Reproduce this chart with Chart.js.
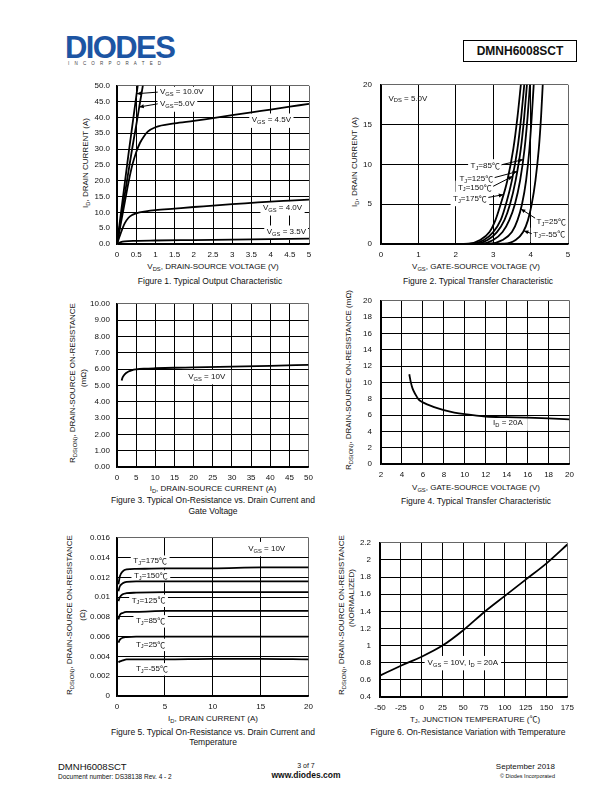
<!DOCTYPE html>
<html><head><meta charset="utf-8">
<script src="https://cdn.jsdelivr.net/npm/chart.js@4.4.1/dist/chart.umd.min.js"></script>
<style>
html,body{margin:0;padding:0;background:#fff}
body{width:612px;height:792px;position:relative;overflow:hidden;font-family:"Liberation Sans",Arial,"Noto Sans CJK SC",sans-serif;color:#111}
.t{position:absolute;white-space:nowrap;line-height:1;transform:translate(-50%,-50%)}
.r{position:absolute;white-space:nowrap;line-height:1;transform:translate(-50%,-50%) rotate(-90deg)}
.l{position:absolute;white-space:nowrap;line-height:1;transform:translateY(-50%)}
.rt{position:absolute;white-space:nowrap;line-height:1;transform:translate(-100%,-50%)}
sub{font-size:72%;vertical-align:-0.3em;line-height:0}
.ax{font-size:8px}
.cap{font-size:8.5px}
.cjk{font-family:"Noto Sans CJK SC",sans-serif}
</style></head><body>

<!-- header -->
<div class="l" style="left:65px;top:47px;font-size:31px;font-weight:bold;color:#1d55a3;letter-spacing:-1.6px;">DIODES</div>
<div class="l" style="left:68px;top:64px;font-size:4.5px;letter-spacing:5.2px;color:#444;">INCORPORATED</div>
<div style="position:absolute;left:463px;top:40px;width:114px;height:22px;box-sizing:border-box;border:1px solid #000;display:flex;align-items:center;justify-content:center;font-weight:bold;font-size:12px;">DMNH6008SCT</div>

<!-- figure 1 texts -->
<div class="t ax" style="left:213px;top:266.5px">V<sub>DS</sub>, DRAIN-SOURCE VOLTAGE (V)</div>
<div class="r ax" style="left:86px;top:163px">I<sub>D</sub>, DRAIN CURRENT (A)</div>
<div class="t cap" style="left:210px;top:280.5px">Figure 1. Typical Output Characteristic</div>
<!-- figure 2 texts -->
<div class="t ax" style="left:476px;top:267px">V<sub>GS</sub>, GATE-SOURCE VOLTAGE (V)</div>
<div class="r ax" style="left:355px;top:162px">I<sub>D</sub>, DRAIN CURRENT (A)</div>
<div class="t cap" style="left:478px;top:280.5px">Figure 2. Typical Transfer Characteristic</div>
<!-- figure 3 texts -->
<div class="t ax" style="left:213px;top:489px">I<sub>D</sub>, DRAIN-SOURCE CURRENT (A)</div>
<div class="r ax" style="left:73px;top:383px">R<sub>DS(ON)</sub>, DRAIN-SOURCE ON-RESISTANCE</div>
<div class="r ax" style="left:83.5px;top:378px">(mΩ)</div>
<div class="t cap" style="left:213px;top:500px">Figure 3. Typical On-Resistance vs. Drain Current and</div>
<div class="t cap" style="left:213px;top:511px">Gate Voltage</div>
<!-- figure 4 texts -->
<div class="t ax" style="left:476px;top:488px">V<sub>GS</sub>, GATE-SOURCE VOLTAGE (V)</div>
<div class="r ax" style="left:349px;top:380px">R<sub>DS(ON)</sub>, DRAIN-SOURCE ON-RESISTANCE (mΩ)</div>
<div class="t cap" style="left:476px;top:501px">Figure 4. Typical Transfer Characteristic</div>
<!-- figure 5 texts -->
<div class="t ax" style="left:213px;top:719px">I<sub>D</sub>, DRAIN CURRENT (A)</div>
<div class="r ax" style="left:70px;top:615px">R<sub>DS(ON)</sub>, DRAIN-SOURCE ON-RESISTANCE</div>
<div class="r ax" style="left:82.5px;top:615px">(Ω)</div>
<div class="t cap" style="left:213px;top:731.5px">Figure 5. Typical On-Resistance vs. Drain Current and</div>
<div class="t cap" style="left:213px;top:742px">Temperature</div>
<!-- figure 6 texts -->
<div class="t ax" style="left:475px;top:718.5px">T<sub>J</sub>, JUNCTION TEMPERATURE (<span class="cjk">℃</span>)</div>
<div class="r ax" style="left:341.5px;top:615px">R<sub>DS(ON)</sub>, DRAIN-SOURCE ON-RESISTANCE</div>
<div class="r ax" style="left:352px;top:598px">(NORMALIZED)</div>
<div class="t cap" style="left:468px;top:731.5px">Figure 6. On-Resistance Variation with Temperature</div>

<!-- footer -->
<div class="l" style="left:58px;top:767px;font-size:9.5px">DMNH6008SCT</div>
<div class="l" style="left:58px;top:777px;font-size:6.5px">Document number: DS38138 Rev. 4 - 2</div>
<div class="t" style="left:306px;top:765px;font-size:7px">3 of 7</div>
<div class="t" style="left:306px;top:775px;font-size:8.5px;font-weight:bold">www.diodes.com</div>
<div class="rt" style="left:555px;top:767px;font-size:8px">September 2018</div>
<div class="rt" style="left:555px;top:777px;font-size:5.5px">© Diodes Incorporated</div>

<script>
// ================= DATA =================
// Figure 1: Typical Output Characteristic
const f1XLabels = ['0','0.5','1','1.5','2','2.5','3','3.5','4','4.5','5'];
const f1YLabels = ['0.0','5.0','10.0','15.0','20.0','25.0','30.0','35.0','40.0','45.0','50.0'];
const f1Vds10 = [0, 0.1, 0.2, 0.3, 0.4, 0.5, 0.55];
const f1Id10  = [0, 9.5, 19, 28.5, 37.5, 46.5, 51];
const f1Vds50 = [0, 0.1, 0.2, 0.3, 0.4, 0.5, 0.6, 0.7];
const f1Id50  = [0, 7.8, 15.5, 23, 30.5, 37.5, 44.8, 52];
const f1Vds45 = [0, 0.1, 0.2, 0.3, 0.4, 0.5, 0.6, 0.7, 0.8, 1.0, 1.5, 2, 2.5, 3, 3.5, 4, 4.5, 5];
const f1Id45  = [0, 6.5, 13, 19.5, 25, 29, 32, 34, 35.5, 36.9, 38.1, 38.9, 39.8, 40.7, 41.6, 42.5, 43.4, 44.3];
const f1Vds40 = [0, 0.1, 0.2, 0.3, 0.4, 0.5, 0.75, 1, 1.5, 2, 2.5, 3, 3.5, 4, 4.5, 5];
const f1Id40  = [0, 3.5, 6.5, 8.3, 9.2, 9.7, 10.3, 10.7, 11.2, 11.7, 12.1, 12.6, 13, 13.4, 13.7, 14];
const f1Vds35 = [0, 0.1, 0.2, 0.5, 1, 2, 3, 4, 5];
const f1Id35  = [0, 0.6, 0.85, 1.0, 1.1, 1.25, 1.4, 1.55, 1.7];

// Figure 2: Typical Transfer Characteristic (VDS = 5V)
const f2XLabels = ['0','1','2','3','4','5'];
const f2YLabels = ['0','5','10','15','20'];
const f2Id      = [0, 0.05, 0.5, 1.5, 3, 5, 8, 12, 16, 20.5];
const f2VgsM55  = [1.5, 3.3, 3.6, 3.8, 3.93, 4.03, 4.13, 4.22, 4.28, 4.33];
const f2Vgs25   = [1.5, 2.9, 3.25, 3.5, 3.65, 3.77, 3.88, 3.97, 4.03, 4.09];
const f2Vgs85   = [1.5, 2.7, 3.0, 3.25, 3.43, 3.58, 3.72, 3.84, 3.92, 3.99];
const f2Vgs125  = [1.5, 2.55, 2.85, 3.1, 3.3, 3.45, 3.6, 3.74, 3.83, 3.91];
const f2Vgs150  = [1.5, 2.45, 2.75, 3.0, 3.2, 3.34, 3.5, 3.65, 3.75, 3.84];
const f2Vgs175  = [1.5, 2.35, 2.65, 2.9, 3.06, 3.2, 3.38, 3.54, 3.65, 3.75];

// Figure 3: On-Resistance vs Drain Current (VGS = 10V)
const f3XLabels = ['0','5','10','15','20','25','30','35','40','45','50'];
const f3YLabels = ['0.00','1.00','2.00','3.00','4.00','5.00','6.00','7.00','8.00','9.00','10.00'];
const f3Id  = [1.2, 1.5, 2, 3, 4, 5, 7, 10, 15, 20, 30, 40, 50];
const f3Rds = [5.3, 5.5, 5.68, 5.85, 5.94, 5.98, 6.02, 6.05, 6.08, 6.1, 6.15, 6.2, 6.26];

// Figure 4: On-Resistance vs Gate-Source Voltage (ID = 20A)
const f4XLabels = ['2','4','6','8','10','12','14','16','18','20'];
const f4YLabels = ['0','2','4','6','8','10','12','14','16','18','20'];
const f4Vgs = [4.7, 4.85, 5.0, 5.3, 5.6, 6, 7, 8, 9, 10, 12, 14, 16, 18, 20];
const f4Rds = [11.0, 10.0, 9.3, 8.5, 7.9, 7.55, 7.0, 6.6, 6.3, 6.1, 5.82, 5.74, 5.68, 5.58, 5.48];

// Figure 5: On-Resistance vs Drain Current and Temperature
const f5XLabels = ['0','5','10','15','20'];
const f5YLabels = ['0','0.002','0.004','0.006','0.008','0.01','0.012','0.014','0.016'];
const f5Id    = [0.15, 0.3, 0.6, 1, 2, 5, 10, 15, 20];
const f5R175  = [0.0113, 0.0121, 0.0126, 0.0128, 0.01285, 0.0129, 0.0129, 0.013, 0.013];
const f5R150  = [0.0106, 0.0111, 0.0114, 0.01155, 0.0116, 0.0116, 0.0116, 0.0116, 0.0116];
const f5R125  = [0.0096, 0.0100, 0.0103, 0.0104, 0.01045, 0.0105, 0.0105, 0.0105, 0.0105];
const f5R85   = [0.00775, 0.0082, 0.0084, 0.0085, 0.0085, 0.0086, 0.0086, 0.0086, 0.0086];
const f5R25   = [0.0054, 0.0057, 0.0059, 0.00595, 0.006, 0.006, 0.006, 0.006, 0.006];
const f5RM55  = [0.0034, 0.0035, 0.0036, 0.0037, 0.0037, 0.0037, 0.00375, 0.00375, 0.0037];

// Figure 6: Normalized On-Resistance vs Junction Temperature
const f6XLabels = ['-50','-25','0','25','50','75','100','125','150','175'];
const f6YLabels = ['0.4','0.6','0.8','1','1.2','1.4','1.6','1.8','2','2.2'];
const f6Tj = [-50, -25, 0, 25, 50, 75, 100, 125, 150, 175];
const f6Rn = [0.65, 0.765, 0.87, 1.0, 1.18, 1.39, 1.58, 1.77, 1.96, 2.18];

// ================= HELPERS =================
const FONT = '"Liberation Sans", Arial, "Noto Sans CJK SC", sans-serif';
const CJK = '"Noto Sans CJK SC", sans-serif';
const pts = (xs, ys) => xs.map((v, i) => ({x: v, y: ys[i]}));

// segments: [text, kind] kind 0 normal, 1 subscript, 2 CJK symbol
function parseRich(s){
  const out = []; const re = /_\{([^}]*)\}|℃/g; let last = 0, m;
  while ((m = re.exec(s))) {
    if (m.index > last) out.push([s.slice(last, m.index), 0]);
    if (m[0] === '℃') out.push(['℃', 2]); else out.push([m[1], 1]);
    last = re.lastIndex;
  }
  if (last < s.length) out.push([s.slice(last), 0]);
  return out;
}
function setFont(ctx, kind, fs){
  ctx.font = kind === 1 ? (fs*0.72) + 'px ' + FONT : (kind === 2 ? fs + 'px ' + CJK : fs + 'px ' + FONT);
}
function richW(ctx, segs, fs){
  let w = 0;
  for (const [t, s] of segs){ setFont(ctx, s, fs); w += ctx.measureText(t).width; }
  return w;
}
function geom(chart, n, fs){
  const {ctx, scales} = chart;
  const segs = parseRich(n.text);
  const w = richW(ctx, segs, fs);
  const px = scales.x.getPixelForValue(n.x), py = scales.y.getPixelForValue(n.y);
  const left = n.align === 'right' ? px - w : (n.align === 'center' ? px - w/2 : px);
  return {segs, w, left, py};
}

const notesPlugin = {
  id: 'notes',
  beforeDatasetsDraw(chart, args, opts){
    const {ctx, chartArea: ca} = chart; const fs = opts.size || 8;
    ctx.save();
    ctx.beginPath(); ctx.rect(ca.left + 1, ca.top + 1, ca.right - ca.left - 2, ca.bottom - ca.top - 2); ctx.clip();
    for (const n of (opts.items || [])){
      if (!n.box) continue;
      const g = geom(chart, n, fs);
      const padX = n.padX ?? 2.5, padY = n.padY ?? 2;
      ctx.fillStyle = '#fff';
      ctx.fillRect(g.left - padX, g.py - fs*0.6 - padY, g.w + 2*padX, fs*1.3 + 2*padY);
    }
    ctx.restore();
  },
  afterDatasetsDraw(chart, args, opts){
    const {ctx, scales} = chart; const fs = opts.size || 8;
    ctx.save();
    for (const n of (opts.items || [])){
      if (n.arrow){
        const [a, b] = n.arrow;
        const x0 = scales.x.getPixelForValue(a[0]), y0 = scales.y.getPixelForValue(a[1]);
        const x1 = scales.x.getPixelForValue(b[0]), y1 = scales.y.getPixelForValue(b[1]);
        ctx.strokeStyle = '#000'; ctx.lineWidth = 1;
        ctx.beginPath(); ctx.moveTo(x0, y0); ctx.lineTo(x1, y1); ctx.stroke();
        const ang = Math.atan2(y1 - y0, x1 - x0), L = 4.5, W = 2;
        ctx.fillStyle = '#000'; ctx.beginPath();
        ctx.moveTo(x1, y1);
        ctx.lineTo(x1 - L*Math.cos(ang) + W*Math.sin(ang), y1 - L*Math.sin(ang) - W*Math.cos(ang));
        ctx.lineTo(x1 - L*Math.cos(ang) - W*Math.sin(ang), y1 - L*Math.sin(ang) + W*Math.cos(ang));
        ctx.closePath(); ctx.fill();
      }
      const g = geom(chart, n, fs);
      let cx = g.left;
      ctx.fillStyle = '#111'; ctx.textBaseline = 'middle'; ctx.textAlign = 'left';
      for (const [t, s] of g.segs){
        setFont(ctx, s, fs);
        ctx.fillText(t, cx, s === 1 ? g.py + fs*0.3 : g.py);
        cx += ctx.measureText(t).width;
      }
    }
    ctx.restore();
  }
};

function axis(labels, opts){
  const last = labels.length - 1;
  return {
    type: 'linear',
    min: parseFloat(labels[0]), max: parseFloat(labels[last]),
    afterBuildTicks: s => { s.ticks = labels.map(l => ({value: parseFloat(l)})); },
    afterFit: s => { if (opts.horizontal) s.height = 18; else s.width = 50; },
    ticks: {autoSkip: false, maxRotation: 0, minRotation: 0, padding: opts.pad, color: '#111',
            font: {family: FONT, size: 8}, callback: (v, i) => labels[i]},
    grid: {drawTicks: false, lineWidth: 1, color: c => c.index === last ? '#666' : '#000'},
    border: {display: true, color: '#000', width: 1.5}
  };
}

function makeChart(plot, datasets, xLabels, yLabels, yPad, notes){
  const {L, T, R, B} = plot;
  const wrap = document.createElement('div');
  wrap.style.cssText = `position:absolute;left:${L-50}px;top:${T-8}px;width:${R-L+60}px;height:${B-T+26}px`;
  const cv = document.createElement('canvas');
  wrap.appendChild(cv); document.body.appendChild(wrap);
  new Chart(cv, {
    type: 'scatter',
    data: {datasets: datasets.map(d => ({data: d, showLine: true, borderColor: '#000', borderWidth: 1.8,
      pointRadius: 0, fill: false, cubicInterpolationMode: 'monotone'}))},
    options: {
      responsive: true, maintainAspectRatio: false, animation: false, events: [],
      layout: {padding: {top: 8, right: 10, left: 0, bottom: 0}},
      scales: {x: axis(xLabels, {horizontal: true, pad: 6}), y: axis(yLabels, {horizontal: false, pad: yPad})},
      plugins: {legend: {display: false}, tooltip: {enabled: false}, notes: {size: 8, items: notes}}
    },
    plugins: [notesPlugin]
  });
}

// ================= CHARTS =================
makeChart({L:117, T:82, R:309, B:244},
  [pts(f1Vds10, f1Id10), pts(f1Vds50, f1Id50), pts(f1Vds45, f1Id45), pts(f1Vds40, f1Id40), pts(f1Vds35, f1Id35)],
  f1XLabels, f1YLabels, 7,
  [
    {text: 'V_{GS} = 10.0V', x: 1.12, y: 48.1, box: true, arrow: [[1.06, 48.0], [0.51, 47.5]]},
    {text: 'V_{GS}=5.0V', x: 1.12, y: 44.2, box: true, arrow: [[1.06, 44.3], [0.58, 43.3]]},
    {text: 'V_{GS} = 4.5V', x: 3.51, y: 39.1, box: true},
    {text: 'V_{GS} = 4.0V', x: 3.8, y: 11.4, box: true},
    {text: 'V_{GS} = 3.5V', x: 3.9, y: 3.7, box: true}
  ]);

makeChart({L:381, T:79, R:568, B:244},
  [pts(f2VgsM55, f2Id), pts(f2Vgs25, f2Id), pts(f2Vgs85, f2Id), pts(f2Vgs125, f2Id), pts(f2Vgs150, f2Id), pts(f2Vgs175, f2Id)],
  f2XLabels, f2YLabels, 9,
  [
    {text: 'V_{DS} = 5.0V', x: 0.2, y: 18.3},
    {text: 'T_{J}=85℃', x: 3.18, y: 9.8, align: 'right', box: true, arrow: [[3.22, 9.95], [3.8, 10.6]]},
    {text: 'T_{J}=125℃', x: 3.0, y: 8.2, align: 'right', box: true, arrow: [[3.04, 8.35], [3.64, 9.1]]},
    {text: 'T_{J}=150℃', x: 2.96, y: 7.1, align: 'right', box: true, arrow: [[3.0, 7.25], [3.52, 8.5]]},
    {text: 'T_{J}=175℃', x: 2.83, y: 5.7, align: 'right', box: true, arrow: [[2.87, 5.85], [3.27, 6.2]]},
    {text: 'T_{J}=25℃', x: 4.16, y: 2.8, box: true, arrow: [[4.12, 3.25], [3.74, 4.4]]},
    {text: 'T_{J}=-55℃', x: 4.07, y: 1.2, box: true, arrow: [[4.03, 1.3], [3.82, 1.65]]}
  ]);

makeChart({L:117, T:300, R:309, B:467},
  [pts(f3Id, f3Rds)], f3XLabels, f3YLabels, 7,
  [{text: 'V_{GS} = 10V', x: 18.6, y: 5.53, box: true, padX: 6}]);

makeChart({L:381, T:295, R:570, B:464},
  [pts(f4Vgs, f4Rds)], f4XLabels, f4YLabels, 9,
  [{text: 'I_{D} = 20A', x: 12.7, y: 5.0, box: true, padX: 5}]);

makeChart({L:117, T:534, R:309, B:696},
  [pts(f5Id, f5R175), pts(f5Id, f5R150), pts(f5Id, f5R125), pts(f5Id, f5R85), pts(f5Id, f5R25), pts(f5Id, f5RM55)],
  f5XLabels, f5YLabels, 7,
  [
    {text: 'V_{GS} = 10V', x: 13.7, y: 0.0149, box: true},
    {text: 'T_{J}=175℃', x: 1.7, y: 0.01363, box: true, padY: 1},
    {text: 'T_{J}=150℃', x: 1.77, y: 0.01214, box: true, padY: 1},
    {text: 'T_{J}=125℃', x: 1.53, y: 0.00967, box: true, padY: 1},
    {text: 'T_{J}=85℃', x: 1.98, y: 0.00759, box: true, padY: 1},
    {text: 'T_{J}=25℃', x: 1.98, y: 0.00521, box: true, padY: 1},
    {text: 'T_{J}=-55℃', x: 1.98, y: 0.00274, box: true, padY: 1}
  ]);

makeChart({L:380, T:537, R:570, B:697},
  [pts(f6Tj, f6Rn)], f6XLabels, f6YLabels, 9,
  [{text: 'V_{GS} = 10V, I_{D} = 20A', x: 7.2, y: 0.8, box: true, padX: 3}]);
</script>
</body></html>
